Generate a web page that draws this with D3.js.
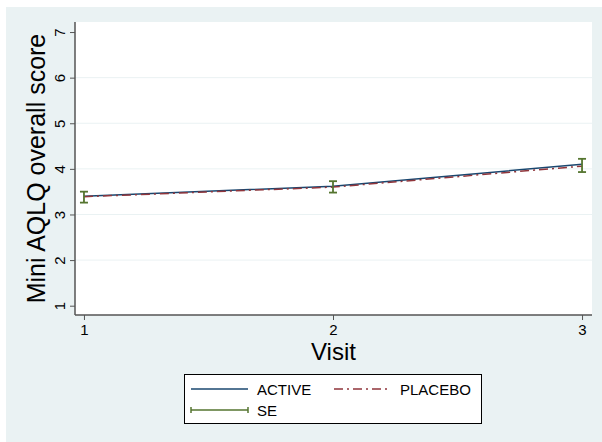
<!DOCTYPE html>
<html>
<head>
<meta charset="utf-8">
<script src="https://cdn.jsdelivr.net/npm/d3@7"></script>
<style>
  body { margin: 0; background: #fff; }
  text { font-family: "Liberation Sans", Arial, sans-serif; }
</style>
</head>
<body>
<div id="chart"></div>
<script>
// data
const visits = [1, 2, 3];
const activeMeans = [3.40, 3.62, 4.10];
const placeboMeans = [3.39, 3.60, 4.06];
const seLow = [3.26, 3.48, 3.93];
const seHigh = [3.50, 3.73, 4.22];
const yTicks = [1, 2, 3, 4, 5, 6, 7];
const legendItems = ["ACTIVE", "PLACEBO", "SE"];

const width = 602;
const height = 442;
const plot = {left: 75, top: 22, right: 592, bottom: 315};

const bg = "#eaf2f3";
const activeColor = "#1a476f";
const placeboColor = "#90353b";
const seColor = "#55752f";

const svg = d3.select("#chart")
  .append("svg")
    .attr("width", width)
    .attr("height", height);

// outer background
svg.append("rect")
  .attr("x", 6).attr("y", 7)
  .attr("width", width - 6).attr("height", height - 7)
  .attr("fill", bg);

// plot region
svg.append("rect")
  .attr("x", plot.left).attr("y", plot.top)
  .attr("width", plot.right - plot.left).attr("height", plot.bottom - plot.top)
  .attr("fill", "#fff");

const xScale = d3.scaleLinear()
  .domain([0.964, 3.04])
  .range([plot.left, plot.right]);

const yScale = d3.scaleLinear()
  .domain([0.796, 7.22])
  .range([plot.bottom, plot.top]);

// gridlines
svg.append("g")
  .selectAll("line")
  .data(yTicks.filter(d => d > 1 && d < 7))
  .join("line")
    .attr("x1", plot.left).attr("x2", plot.right)
    .attr("y1", d => yScale(d)).attr("y2", d => yScale(d))
    .attr("stroke", bg)
    .attr("stroke-width", 1);

// y axis
const leftAxis = d3.axisLeft(yScale)
  .tickValues(yTicks)
  .tickFormat(d3.format("d"))
  .tickSize(5)
  .tickSizeOuter(0);
const yAxis = svg.append("g")
  .attr("transform", `translate(${plot.left}, 0)`)
  .call(leftAxis);
yAxis.select(".domain").remove();
yAxis.append("line")
  .attr("x1", 0).attr("x2", 0)
  .attr("y1", plot.top).attr("y2", plot.bottom)
  .attr("stroke", "#555").attr("stroke-width", 1.5);
yAxis.selectAll(".tick line").attr("stroke", "#555");
yAxis.selectAll(".tick text")
  .attr("font-size", 15)
  .attr("fill", "#000")
  .attr("text-anchor", "middle")
  .attr("x", 0).attr("dy", 0)
  .attr("transform", "translate(-10, 0) rotate(-90)")
  .attr("y", 0);

// x axis
const bottomAxis = d3.axisBottom(xScale)
  .tickValues(visits)
  .tickFormat(d3.format("d"))
  .tickSize(5)
  .tickSizeOuter(0);
const xAxis = svg.append("g")
  .attr("transform", `translate(0, ${plot.bottom})`)
  .call(bottomAxis);
xAxis.select(".domain").remove();
xAxis.append("line")
  .attr("x1", plot.left).attr("x2", plot.right)
  .attr("y1", 0).attr("y2", 0)
  .attr("stroke", "#555").attr("stroke-width", 1.5);
xAxis.selectAll(".tick line").attr("stroke", "#555");
xAxis.selectAll(".tick text")
  .attr("font-size", 15)
  .attr("fill", "#000")
  .attr("y", 9);

// axis titles
svg.append("text")
  .text("Visit")
  .attr("x", (plot.left + plot.right) / 2)
  .attr("y", 360)
  .attr("text-anchor", "middle")
  .attr("font-size", 24);

svg.append("text")
  .text("Mini AQLQ overall score")
  .attr("transform", `translate(45, ${(plot.top + plot.bottom) / 2}) rotate(-90)`)
  .attr("text-anchor", "middle")
  .attr("font-size", 25);

// lines
const line = d3.line()
  .x((d, i) => xScale(visits[i]))
  .y(d => yScale(d));

svg.append("path")
  .datum(activeMeans)
  .attr("d", line)
  .attr("fill", "none")
  .attr("stroke", activeColor)
  .attr("stroke-width", 1.5);

svg.append("path")
  .datum(placeboMeans)
  .attr("d", line)
  .attr("fill", "none")
  .attr("stroke", placeboColor)
  .attr("stroke-width", 1.5)
  .attr("stroke-dasharray", "9,4,2,4");

// SE bars
const capW = 4;
const seGroup = svg.append("g")
  .attr("stroke", seColor)
  .attr("stroke-width", 1.8);
visits.forEach((v, i) => {
  seGroup.append("line")
    .attr("x1", xScale(v)).attr("x2", xScale(v))
    .attr("y1", yScale(seLow[i])).attr("y2", yScale(seHigh[i]));
  [seLow[i], seHigh[i]].forEach(s => {
    seGroup.append("line")
      .attr("x1", xScale(v) - capW).attr("x2", xScale(v) + capW)
      .attr("y1", yScale(s)).attr("y2", yScale(s));
  });
});

// legend
const legend = svg.append("g");
legend.append("rect")
  .attr("x", 184.5).attr("y", 374.5)
  .attr("width", 297).attr("height", 49)
  .attr("fill", "#fff")
  .attr("stroke", "#000")
  .attr("stroke-width", 1);

const legendPos = [
  {x: 191, y: 389},
  {x: 334, y: 389},
  {x: 191, y: 410}
];
const legendColors = [activeColor, placeboColor, seColor];

legendItems.forEach((name, i) => {
  const p = legendPos[i];
  legend.append("line")
    .attr("x1", p.x).attr("x2", p.x + 57)
    .attr("y1", p.y).attr("y2", p.y)
    .attr("stroke", legendColors[i])
    .attr("stroke-width", 1.5)
    .attr("stroke-dasharray", name === "PLACEBO" ? "9,4,2,4" : null);
  if (name === "SE") {
    [p.x, p.x + 57].forEach(cx => {
      legend.append("line")
        .attr("x1", cx).attr("x2", cx)
        .attr("y1", p.y - 3).attr("y2", p.y + 3)
        .attr("stroke", legendColors[i])
        .attr("stroke-width", 1.5);
    });
  }
  legend.append("text")
    .text(name)
    .attr("x", p.x + 66)
    .attr("y", p.y + 5.5)
    .attr("font-size", 15);
});
</script>
</body>
</html>
